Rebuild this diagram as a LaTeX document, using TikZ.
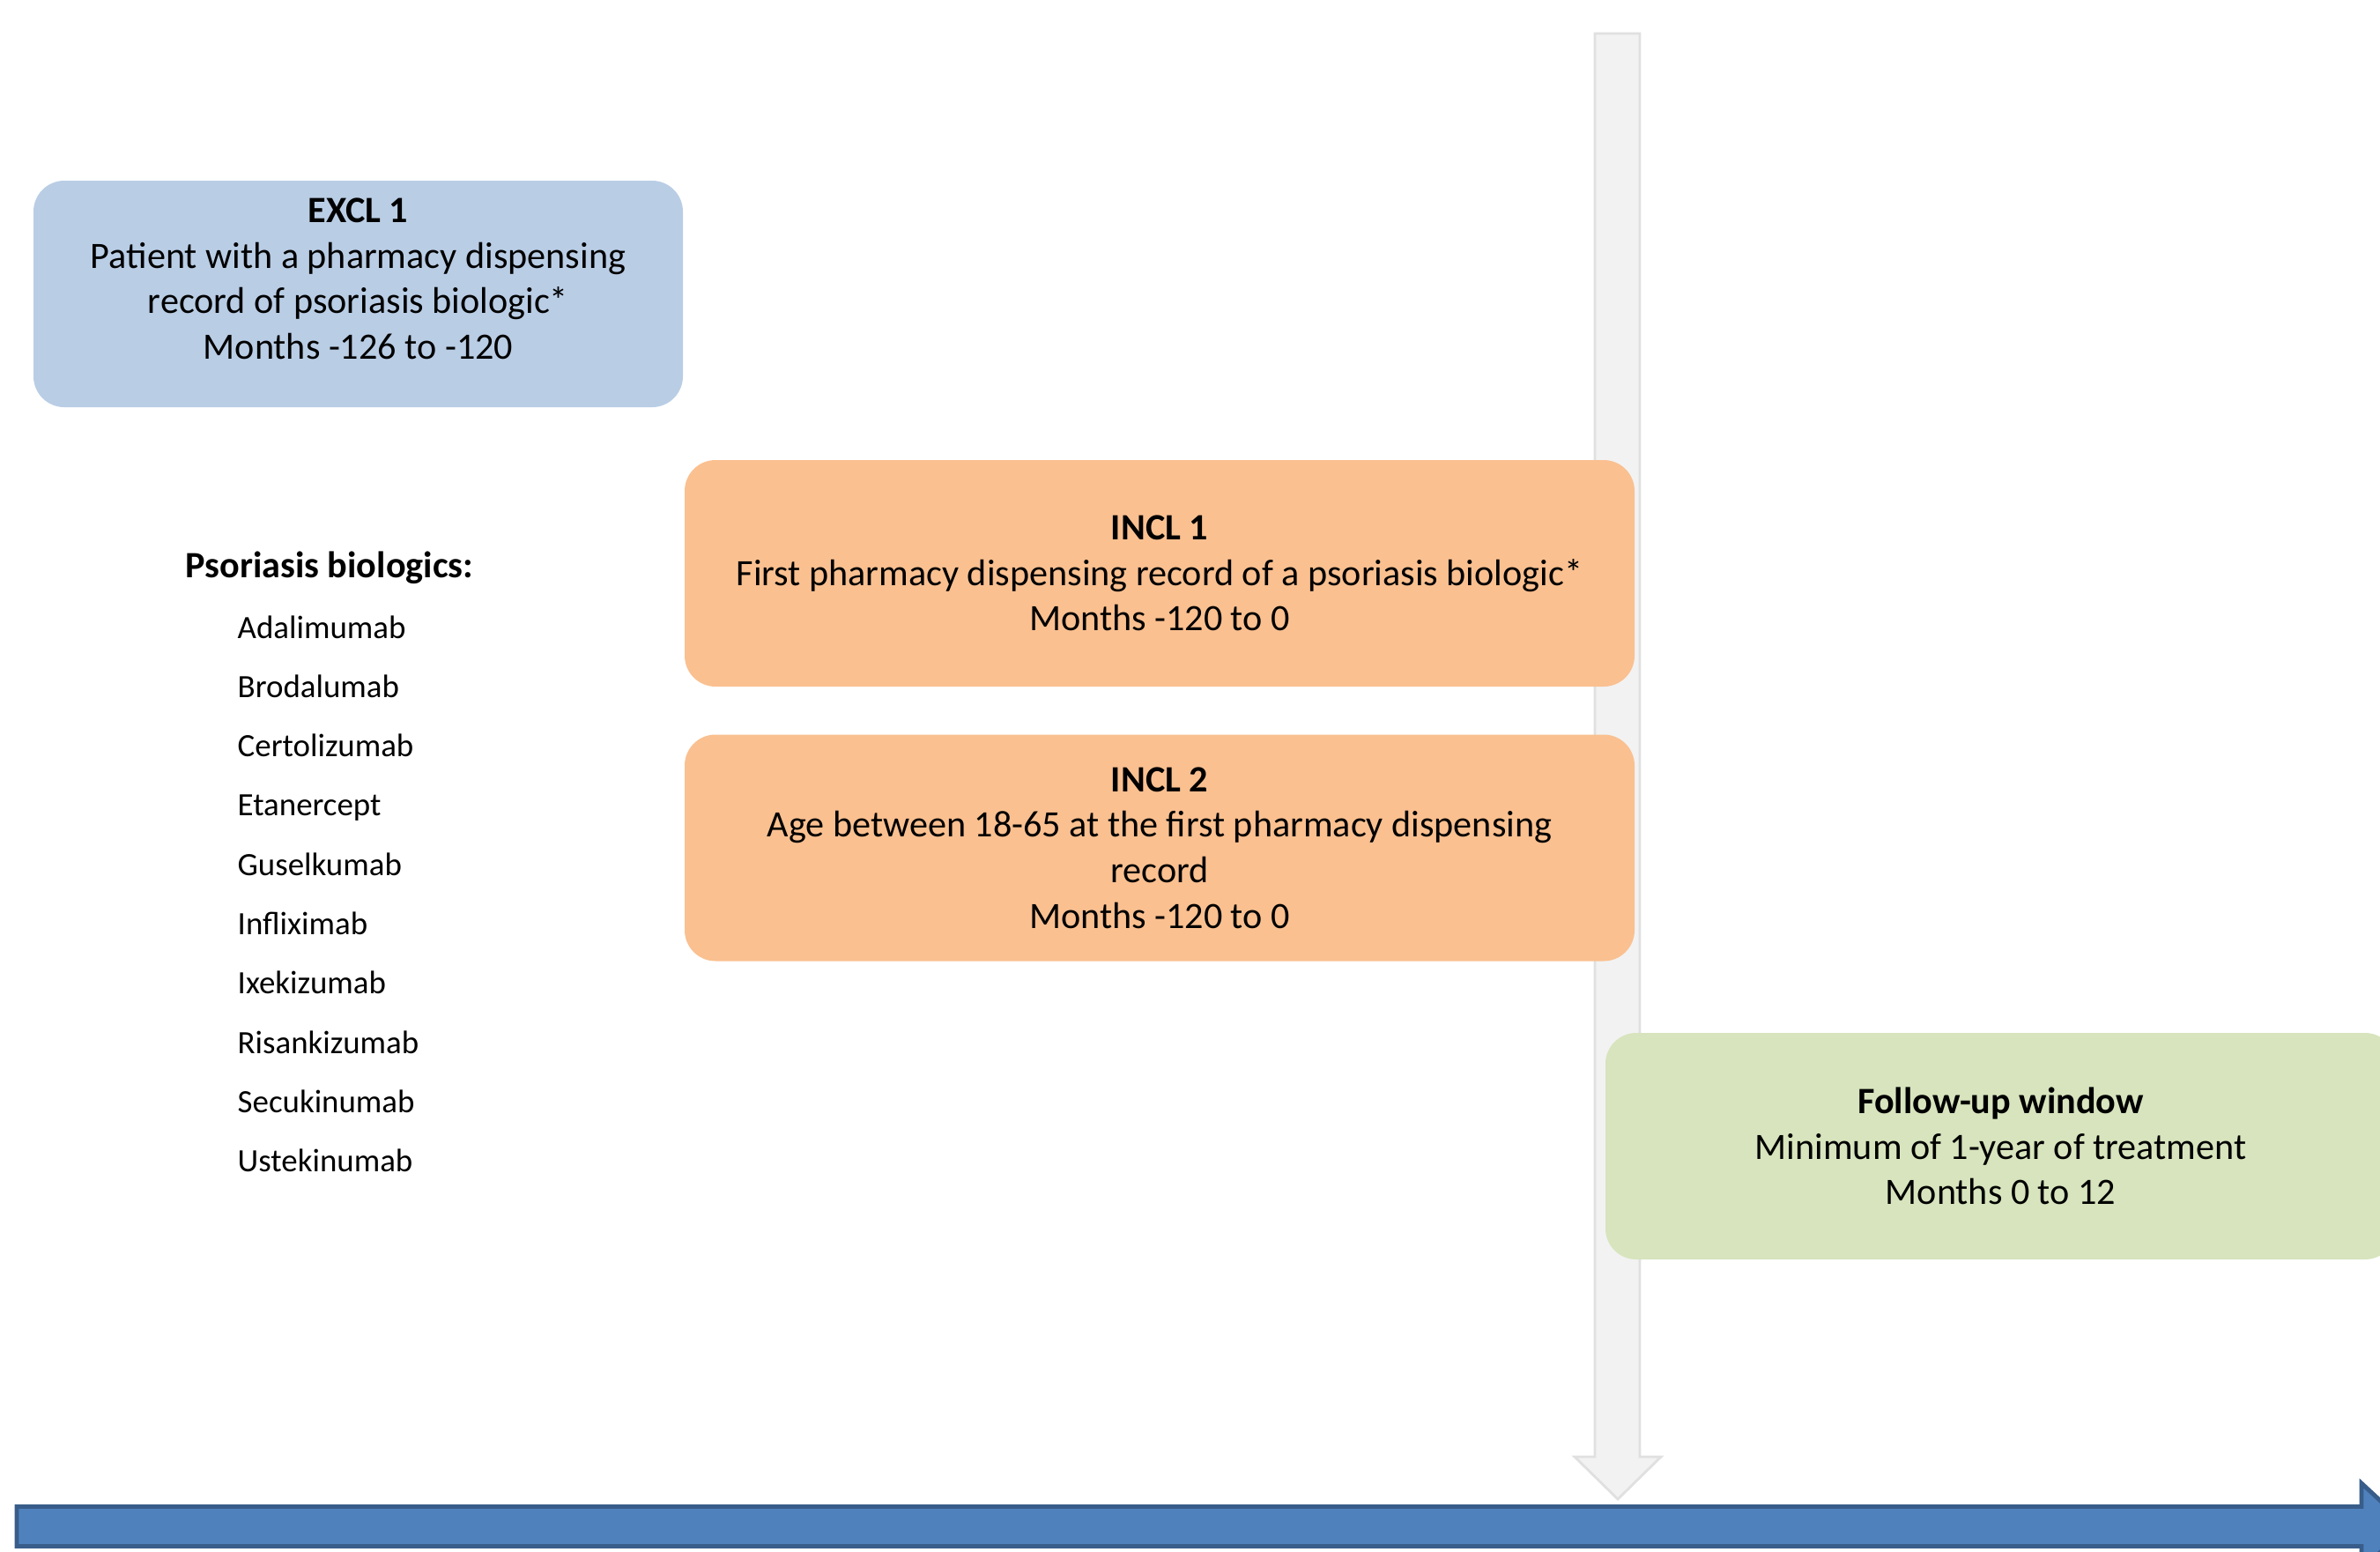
\documentclass[tikz,border=0pt]{standalone}
\usepackage{fontspec}
\setmainfont{Carlito}
\usepackage{xcolor}
\usepackage{tikz}
\usetikzlibrary{positioning, shadows, calc}

\definecolor{exclblue}{HTML}{B9CDE5}
\definecolor{inclorange}{HTML}{FAC090}
\definecolor{followgreen}{HTML}{D7E4BD}
\definecolor{timefill}{HTML}{4F81BD}
\definecolor{timedraw}{HTML}{385D8A}
\definecolor{indexgray}{HTML}{F2F2F2}

\begin{document}
\begin{tikzpicture}[
        critbox/.style={rectangle, rounded corners=0.35cm, minimum width=10.78cm, minimum height=2.57cm, inner sep=0pt, align=center, font=\fontsize{12}{14.7}\selectfont},
        drug/.style={anchor=west, inner sep=0pt, text height=1.6ex, text depth=0.5ex, font=\fontsize{10.5}{12}\selectfont},
        timeline/.style={fill=timefill, draw=timedraw, line width=1.4pt},
        indexarrow/.style={fill=indexgray, draw=black!12, line width=0.8pt}
    ]
        \clip (0,0) rectangle (27.01,-17.60);
        % index date arrow (behind the boxes)
        \draw[indexarrow] (18.10,-0.38) -- (18.61,-0.38) -- (18.61,-16.53) -- (18.85,-16.53) -- (18.36,-17.01) -- (17.87,-16.53) -- (18.10,-16.53) -- cycle;
        % time line
        \draw[timeline] (0.19,-17.095) -- (26.80,-17.095) -- (26.80,-16.83) -- (27.33,-17.32) -- (26.80,-17.81) -- (26.80,-17.545) -- (0.19,-17.545) -- cycle;

        \node[critbox, fill=exclblue, minimum width=7.37cm] (excl) at (4.065,-3.335) {\textbf{EXCL 1}\\Patient with a pharmacy dispensing\\record of psoriasis biologic*\\Months -126 to -120\\[-0.17cm]};
        \node[critbox, fill=inclorange] (incl1) at (13.16,-6.505) {\textbf{INCL 1}\\First pharmacy dispensing record of a psoriasis biologic*\\Months -120 to 0};
        \node[critbox, fill=inclorange] (incl2) at (13.16,-9.62) {\textbf{INCL 2}\\Age between 18-65 at the first pharmacy dispensing\\record\\Months -120 to 0};
        \node[critbox, fill=followgreen, minimum width=8.97cm] (follow) at (22.705,-13.005) {\textbf{Follow-up window}\\Minimum of 1-year of treatment\\Months 0 to 12};

        \node[anchor=west, inner sep=0pt, font=\fontsize{12}{14.7}\selectfont\bfseries] (biohead) at (2.10,-6.44) {Psoriasis biologics:};
        \node[drug] (d1) at (2.69,-7.15) {Adalimumab};
        \node[drug] (d2) at (2.69,-7.82) {Brodalumab};
        \node[drug] (d3) at (2.69,-8.49) {Certolizumab};
        \node[drug] (d4) at (2.69,-9.16) {Etanercept};
        \node[drug] (d5) at (2.69,-9.84) {Guselkumab};
        \node[drug] (d6) at (2.69,-10.51) {Infliximab};
        \node[drug] (d7) at (2.69,-11.18) {Ixekizumab};
        \node[drug] (d8) at (2.69,-11.86) {Risankizumab};
        \node[drug] (d9) at (2.69,-12.53) {Secukinumab};
        \node[drug] (d10) at (2.69,-13.20) {Ustekinumab};
    \end{tikzpicture}
\end{document}
